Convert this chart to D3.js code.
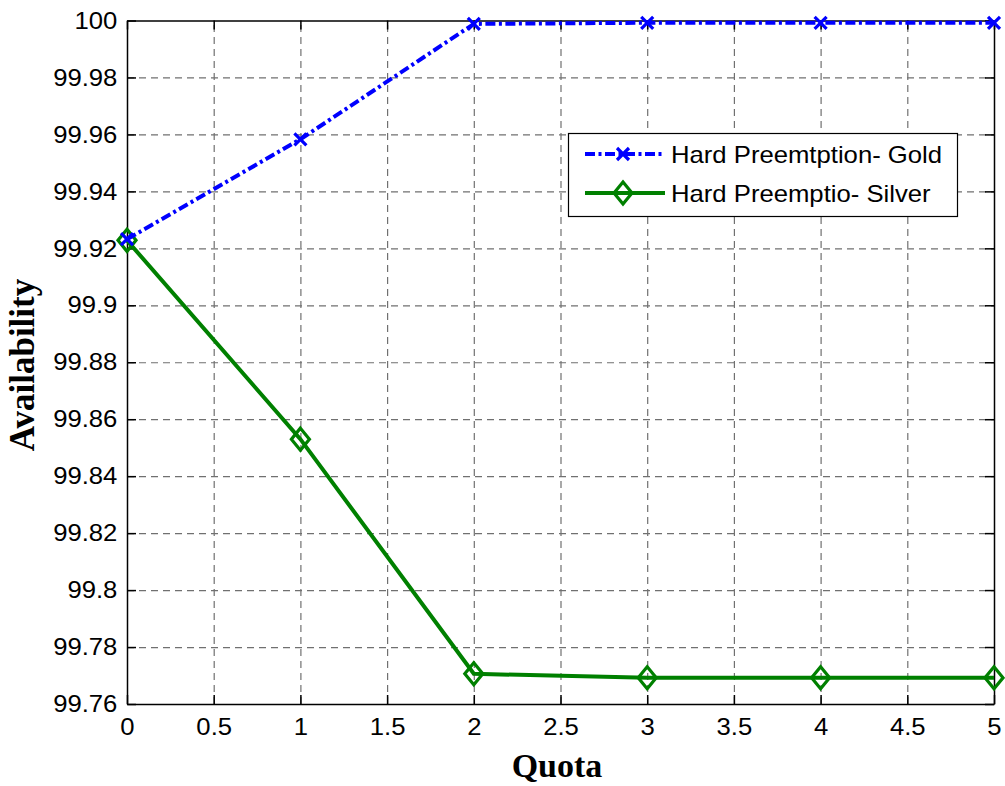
<!DOCTYPE html>
<html>
<head>
<meta charset="utf-8">
<script src="https://cdn.jsdelivr.net/npm/d3@7"></script>
<style>
  body { margin: 0; background: #fff; }
  svg { display: block; }
  .grid line { stroke: #707070; stroke-width: 1.2; stroke-dasharray: 7,5; }
  .grid path { display: none; }
  .axis path, .axis line { stroke: #000; stroke-width: 1.5; }
  .axis text { font-family: "Liberation Sans", Arial, sans-serif; font-size: 24px; fill: #000; }
  .title { font-family: "Liberation Serif", "Times New Roman", serif; font-weight: bold; font-size: 34px; fill: #000; }
  .legend text { font-family: "Liberation Sans", Arial, sans-serif; font-size: 24px; fill: #000; }
</style>
</head>
<body>
<script>
(function() {

//------------------------------------------------------------------------------
// Data
//------------------------------------------------------------------------------

var quota = [0, 1, 2, 3, 4, 5];
var goldValues = [99.9232, 99.9583, 99.9988, 99.9992, 99.9992, 99.9992];
var silverValues = [99.9228, 99.8530, 99.7706, 99.7692, 99.7692, 99.7692];

var seriesNames = ["Hard Preemtption- Gold", "Hard Preemptio- Silver"];

var xTicks = [0, 0.5, 1, 1.5, 2, 2.5, 3, 3.5, 4, 4.5, 5];
var xTickLabels = ["0", "0.5", "1", "1.5", "2", "2.5", "3", "3.5", "4", "4.5", "5"];
var yTicks = [99.76, 99.78, 99.8, 99.82, 99.84, 99.86, 99.88, 99.9, 99.92, 99.94, 99.96, 99.98, 100];
var yTickLabels = ["99.76", "99.78", "99.8", "99.82", "99.84", "99.86", "99.88", "99.9", "99.92", "99.94", "99.96", "99.98", "100"];

//------------------------------------------------------------------------------
// Layout
//------------------------------------------------------------------------------

var W = 1005, H = 786;
var margin = {left: 127, top: 20.5, right: 11, bottom: 82};
var w = W - margin.left - margin.right;
var h = H - margin.top - margin.bottom;
var stretch = "scale(1.07,1)";

var x = d3.scaleLinear().domain([0, 5]).range([0, w]);
var y = d3.scaleLinear().domain([99.76, 100]).range([h, 0]);

var svg = d3.select("body").append("svg")
  .attr("width", W)
  .attr("height", H);

var g = svg.append("g")
  .attr("transform", "translate(" + margin.left + "," + margin.top + ")");

// Grid
g.append("g")
  .attr("class", "grid")
  .attr("transform", "translate(0," + h + ")")
  .call(d3.axisBottom(x).tickValues(xTicks.slice(1, -1)).tickSize(-h).tickFormat(""));
g.append("g")
  .attr("class", "grid")
  .call(d3.axisLeft(y).tickValues(yTicks.slice(1, -1)).tickSize(-w).tickFormat(""));

// Axes (ticks pointing inward on all four sides)
var xLabel = function(d) { return xTickLabels[xTicks.indexOf(d)]; };
var yLabel = function(d) { return yTickLabels[yTicks.indexOf(d)]; };

g.append("g")
  .attr("class", "axis")
  .attr("transform", "translate(0," + h + ")")
  .call(d3.axisBottom(x).tickValues(xTicks).tickSizeInner(-9).tickSizeOuter(0).tickPadding(14).tickFormat(xLabel))
  .selectAll("text").attr("transform", stretch);
g.append("g")
  .attr("class", "axis")
  .call(d3.axisTop(x).tickValues(xTicks).tickSizeInner(-9).tickSizeOuter(0).tickFormat(""));
g.append("g")
  .attr("class", "axis")
  .call(d3.axisLeft(y).tickValues(yTicks).tickSizeInner(-9).tickSizeOuter(0).tickPadding(9).tickFormat(yLabel))
  .selectAll("text").attr("transform", stretch);
g.append("g")
  .attr("class", "axis")
  .attr("transform", "translate(" + w + ",0)")
  .call(d3.axisRight(y).tickValues(yTicks).tickSizeInner(-9).tickSizeOuter(0).tickFormat(""));

// Titles
svg.append("text")
  .attr("class", "title")
  .attr("x", 557)
  .attr("y", 777)
  .attr("text-anchor", "middle")
  .text("Quota");
svg.append("text")
  .attr("class", "title")
  .attr("transform", "translate(34,365) rotate(-90)")
  .attr("text-anchor", "middle")
  .style("font-size", "35px")
  .text("Availability");

//------------------------------------------------------------------------------
// Series
//------------------------------------------------------------------------------

var goldColor = "#0000ff", silverColor = "#008000";
var goldDash = "10,3.5,3,3.5";

var line = d3.line()
  .x(function(d) { return x(d[0]); })
  .y(function(d) { return y(d[1]); });

var gold = quota.map(function(q, i) { return [q, goldValues[i]]; });
var silver = quota.map(function(q, i) { return [q, silverValues[i]]; });

var crossPath = function(s) {
  return "M" + (-s) + "," + (-s) + "L" + s + "," + s + "M" + (-s) + "," + s + "L" + s + "," + (-s);
};
var diamondPath = function(sx, sy) {
  return "M0," + (-sy) + "L" + sx + ",0L0," + sy + "L" + (-sx) + ",0Z";
};

g.append("path")
  .datum(silver)
  .attr("d", line)
  .attr("fill", "none")
  .attr("stroke", silverColor)
  .attr("stroke-width", 4);
g.selectAll(".silver-marker")
  .data(silver)
  .enter().append("path")
  .attr("class", "silver-marker")
  .attr("transform", function(d) { return "translate(" + x(d[0]) + "," + y(d[1]) + ")"; })
  .attr("d", diamondPath(9, 11))
  .attr("fill", "none")
  .attr("stroke", silverColor)
  .attr("stroke-width", 3.2);

g.append("path")
  .datum(gold)
  .attr("d", line)
  .attr("fill", "none")
  .attr("stroke", goldColor)
  .attr("stroke-width", 4)
  .attr("stroke-dasharray", goldDash);
g.selectAll(".gold-marker")
  .data(gold)
  .enter().append("path")
  .attr("class", "gold-marker")
  .attr("transform", function(d) { return "translate(" + x(d[0]) + "," + y(d[1]) + ")"; })
  .attr("d", crossPath(6))
  .attr("fill", "none")
  .attr("stroke", goldColor)
  .attr("stroke-width", 3.2);

//------------------------------------------------------------------------------
// Legend
//------------------------------------------------------------------------------

var legend = svg.append("g").attr("class", "legend");
legend.append("rect")
  .attr("x", 568.5)
  .attr("y", 133.5)
  .attr("width", 389)
  .attr("height", 83)
  .attr("fill", "#fff")
  .attr("stroke", "#000")
  .attr("stroke-width", 1.2);

var rows = [
  {name: seriesNames[0], color: goldColor, dash: goldDash, marker: crossPath(6), cy: 154},
  {name: seriesNames[1], color: silverColor, dash: null, marker: diamondPath(9, 11), cy: 193}
];
rows.forEach(function(r) {
  legend.append("line")
    .attr("x1", 585).attr("x2", 665)
    .attr("y1", r.cy).attr("y2", r.cy)
    .attr("stroke", r.color)
    .attr("stroke-width", 4)
    .attr("stroke-dasharray", r.dash);
  legend.append("path")
    .attr("transform", "translate(623," + r.cy + ")")
    .attr("d", r.marker)
    .attr("fill", "none")
    .attr("stroke", r.color)
    .attr("stroke-width", 3.2);
  legend.append("text")
    .attr("transform", "translate(671," + (r.cy + 8.5) + ") " + stretch)
    .text(r.name);
});

})();
</script>
</body>
</html>
